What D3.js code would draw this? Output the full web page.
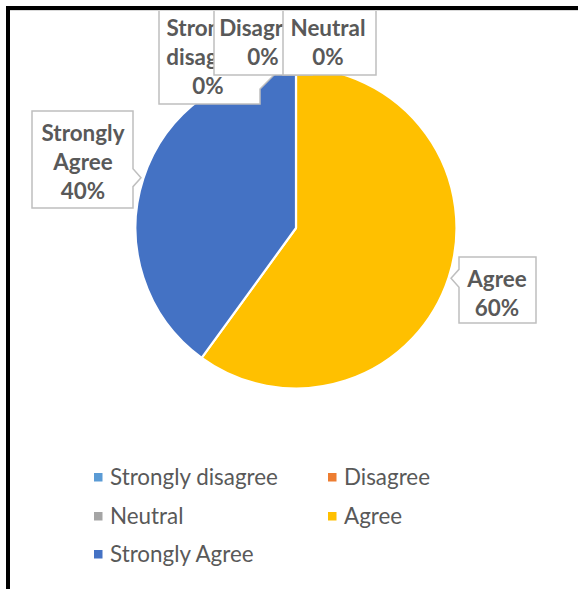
<!DOCTYPE html>
<html>
<head>
<meta charset="utf-8">
<script src="https://cdn.jsdelivr.net/npm/d3@7"></script>
<style>
  html, body { margin: 0; padding: 0; background: #fff; }
  svg { display: block; }
</style>
</head>
<body>
<svg id="chart" width="578" height="589"></svg>
<script>
// ---- data ----
const categories = ["Strongly disagree", "Disagree", "Neutral", "Agree", "Strongly Agree"];
const values = [0, 0, 0, 60, 40];
const colors = ["#5B9BD5", "#ED7D31", "#A5A5A5", "#FFC000", "#4472C4"];
const labelLines = [["Strongly", "disagree"], ["Disagree"], ["Neutral"], ["Agree"], ["Strongly", "Agree"]];

// ---- layout (positions, not data) ----
const W = 578, H = 589;
const cx = 296, cy = 228, R = 160.5;
const FONT = "Lato, 'Open Sans', sans-serif";
const labelBoxes = [
  { x0: 159, y0: 10, x1: 260, y1: 104, tcx: 208, ty: 28, tip: [279, 70], base: [[262, 60], [260, 89]] },
  { x0: 214, y0: 10, x1: 312, y1: 75, tcx: 263, ty: 28, noPointer: true },
  { x0: 283, y0: 10, x1: 376, y1: 75, tcx: 328, ty: 28, noPointer: true },
  { x0: 459, y0: 257, x1: 536, y1: 323, tcx: 497, ty: 279 },
  { x0: 32, y0: 111, x1: 133, y1: 208, tcx: 83, ty: 133 }
];
const legendPos = [
  { x: 94, y: 477 }, { x: 328, y: 477 },
  { x: 94, y: 516 }, { x: 328, y: 516 },
  { x: 94, y: 554 }
];

const svg = d3.select("#chart");

// fit fonts to target widths (Calibri-like metrics)
function fitSize(text, weight, target) {
  const t = svg.append("text").attr("font-family", FONT).attr("font-weight", weight)
    .attr("font-size", 24).text(text);
  const w = t.node().getComputedTextLength();
  t.remove();
  return 24 * target / w;
}
const labelSize = fitSize("Strongly", "bold", 83);
const legendSize = fitSize("Strongly disagree", "normal", 168);

const total = d3.sum(values);
const pct = v => d3.format(".0%")(v / total);

// ---- pie ----
const pie = d3.pie().sort(null).value(d => d.value).startAngle(0).endAngle(2 * Math.PI);
const arcs = pie(categories.map((c, i) => ({ cat: c, value: values[i], i })));
const arc = d3.arc().innerRadius(0).outerRadius(R);

const g = svg.append("g").attr("transform", `translate(${cx},${cy})`);
g.selectAll("path.slice").data(arcs.filter(a => a.data.value > 0)).join("path")
  .attr("class", "slice")
  .attr("d", arc)
  .attr("fill", d => colors[d.data.i])
  .attr("stroke", "#fff")
  .attr("stroke-width", 2.2)
  .attr("stroke-linejoin", "round");

// ---- data labels (callouts) ----
function tipPoint(a) {
  const m = (a.startAngle + a.endAngle) / 2;
  const r = R + 2.5;
  return [cx + r * Math.sin(m), cy - r * Math.cos(m)];
}
arcs.forEach((a, i) => {
  const b = labelBoxes[i];
  let d;
  if (b.noPointer) {
    d = `M${b.x0},${b.y0}H${b.x1}V${b.y1}H${b.x0}Z`;
  } else if (b.base) {
    const tp = b.tip;
    d = `M${b.x0},${b.y0}H${b.base[0][0]}V${b.base[0][1]}L${tp[0]},${tp[1]}L${b.base[1][0]},${b.base[1][1]}V${b.y1}H${b.x0}Z`;
  } else {
    const [tx, ty] = tipPoint(a);
    const hw = 9;
    if (tx > b.x1) {
      d = `M${b.x0},${b.y0}H${b.x1}V${ty - hw}L${tx},${ty}L${b.x1},${ty + hw}V${b.y1}H${b.x0}Z`;
    } else {
      d = `M${b.x0},${b.y0}H${b.x1}V${b.y1}H${b.x0}V${ty + hw}L${tx},${ty}L${b.x0},${ty - hw}Z`;
    }
  }
  const lg = svg.append("g");
  lg.append("path").attr("d", d).attr("fill", "#fff")
    .attr("stroke", "#BFBFBF").attr("stroke-width", 1.5).attr("stroke-linejoin", "miter");
  const lines = labelLines[i].concat([pct(a.data.value)]);
  lines.forEach((ln, k) => {
    lg.append("text")
      .attr("x", b.tcx).attr("y", b.ty + k * 29.3)
      .attr("dy", "0.35em")
      .attr("text-anchor", "middle")
      .attr("font-family", FONT).attr("font-weight", "bold")
      .attr("font-size", labelSize)
      .attr("fill", "#595959")
      .text(ln);
  });
});

// ---- legend ----
const leg = svg.append("g");
categories.forEach((c, i) => {
  const p = legendPos[i];
  leg.append("rect").attr("x", p.x).attr("y", p.y - 4).attr("width", 8.5).attr("height", 8.5)
    .attr("fill", colors[i]);
  leg.append("text").attr("x", p.x + 16).attr("y", p.y).attr("dy", "0.35em")
    .attr("font-family", FONT).attr("font-size", legendSize).attr("fill", "#595959")
    .text(c);
});

// ---- frame ----
svg.append("line").attr("x1", 10).attr("x2", W).attr("y1", 10.5).attr("y2", 10.5)
  .attr("stroke", "#D9D9D9").attr("stroke-width", 1);
svg.append("path").attr("d", `M8,${H}V8H${W}`).attr("fill", "none")
  .attr("stroke", "#000").attr("stroke-width", 4);
</script>
</body>
</html>
